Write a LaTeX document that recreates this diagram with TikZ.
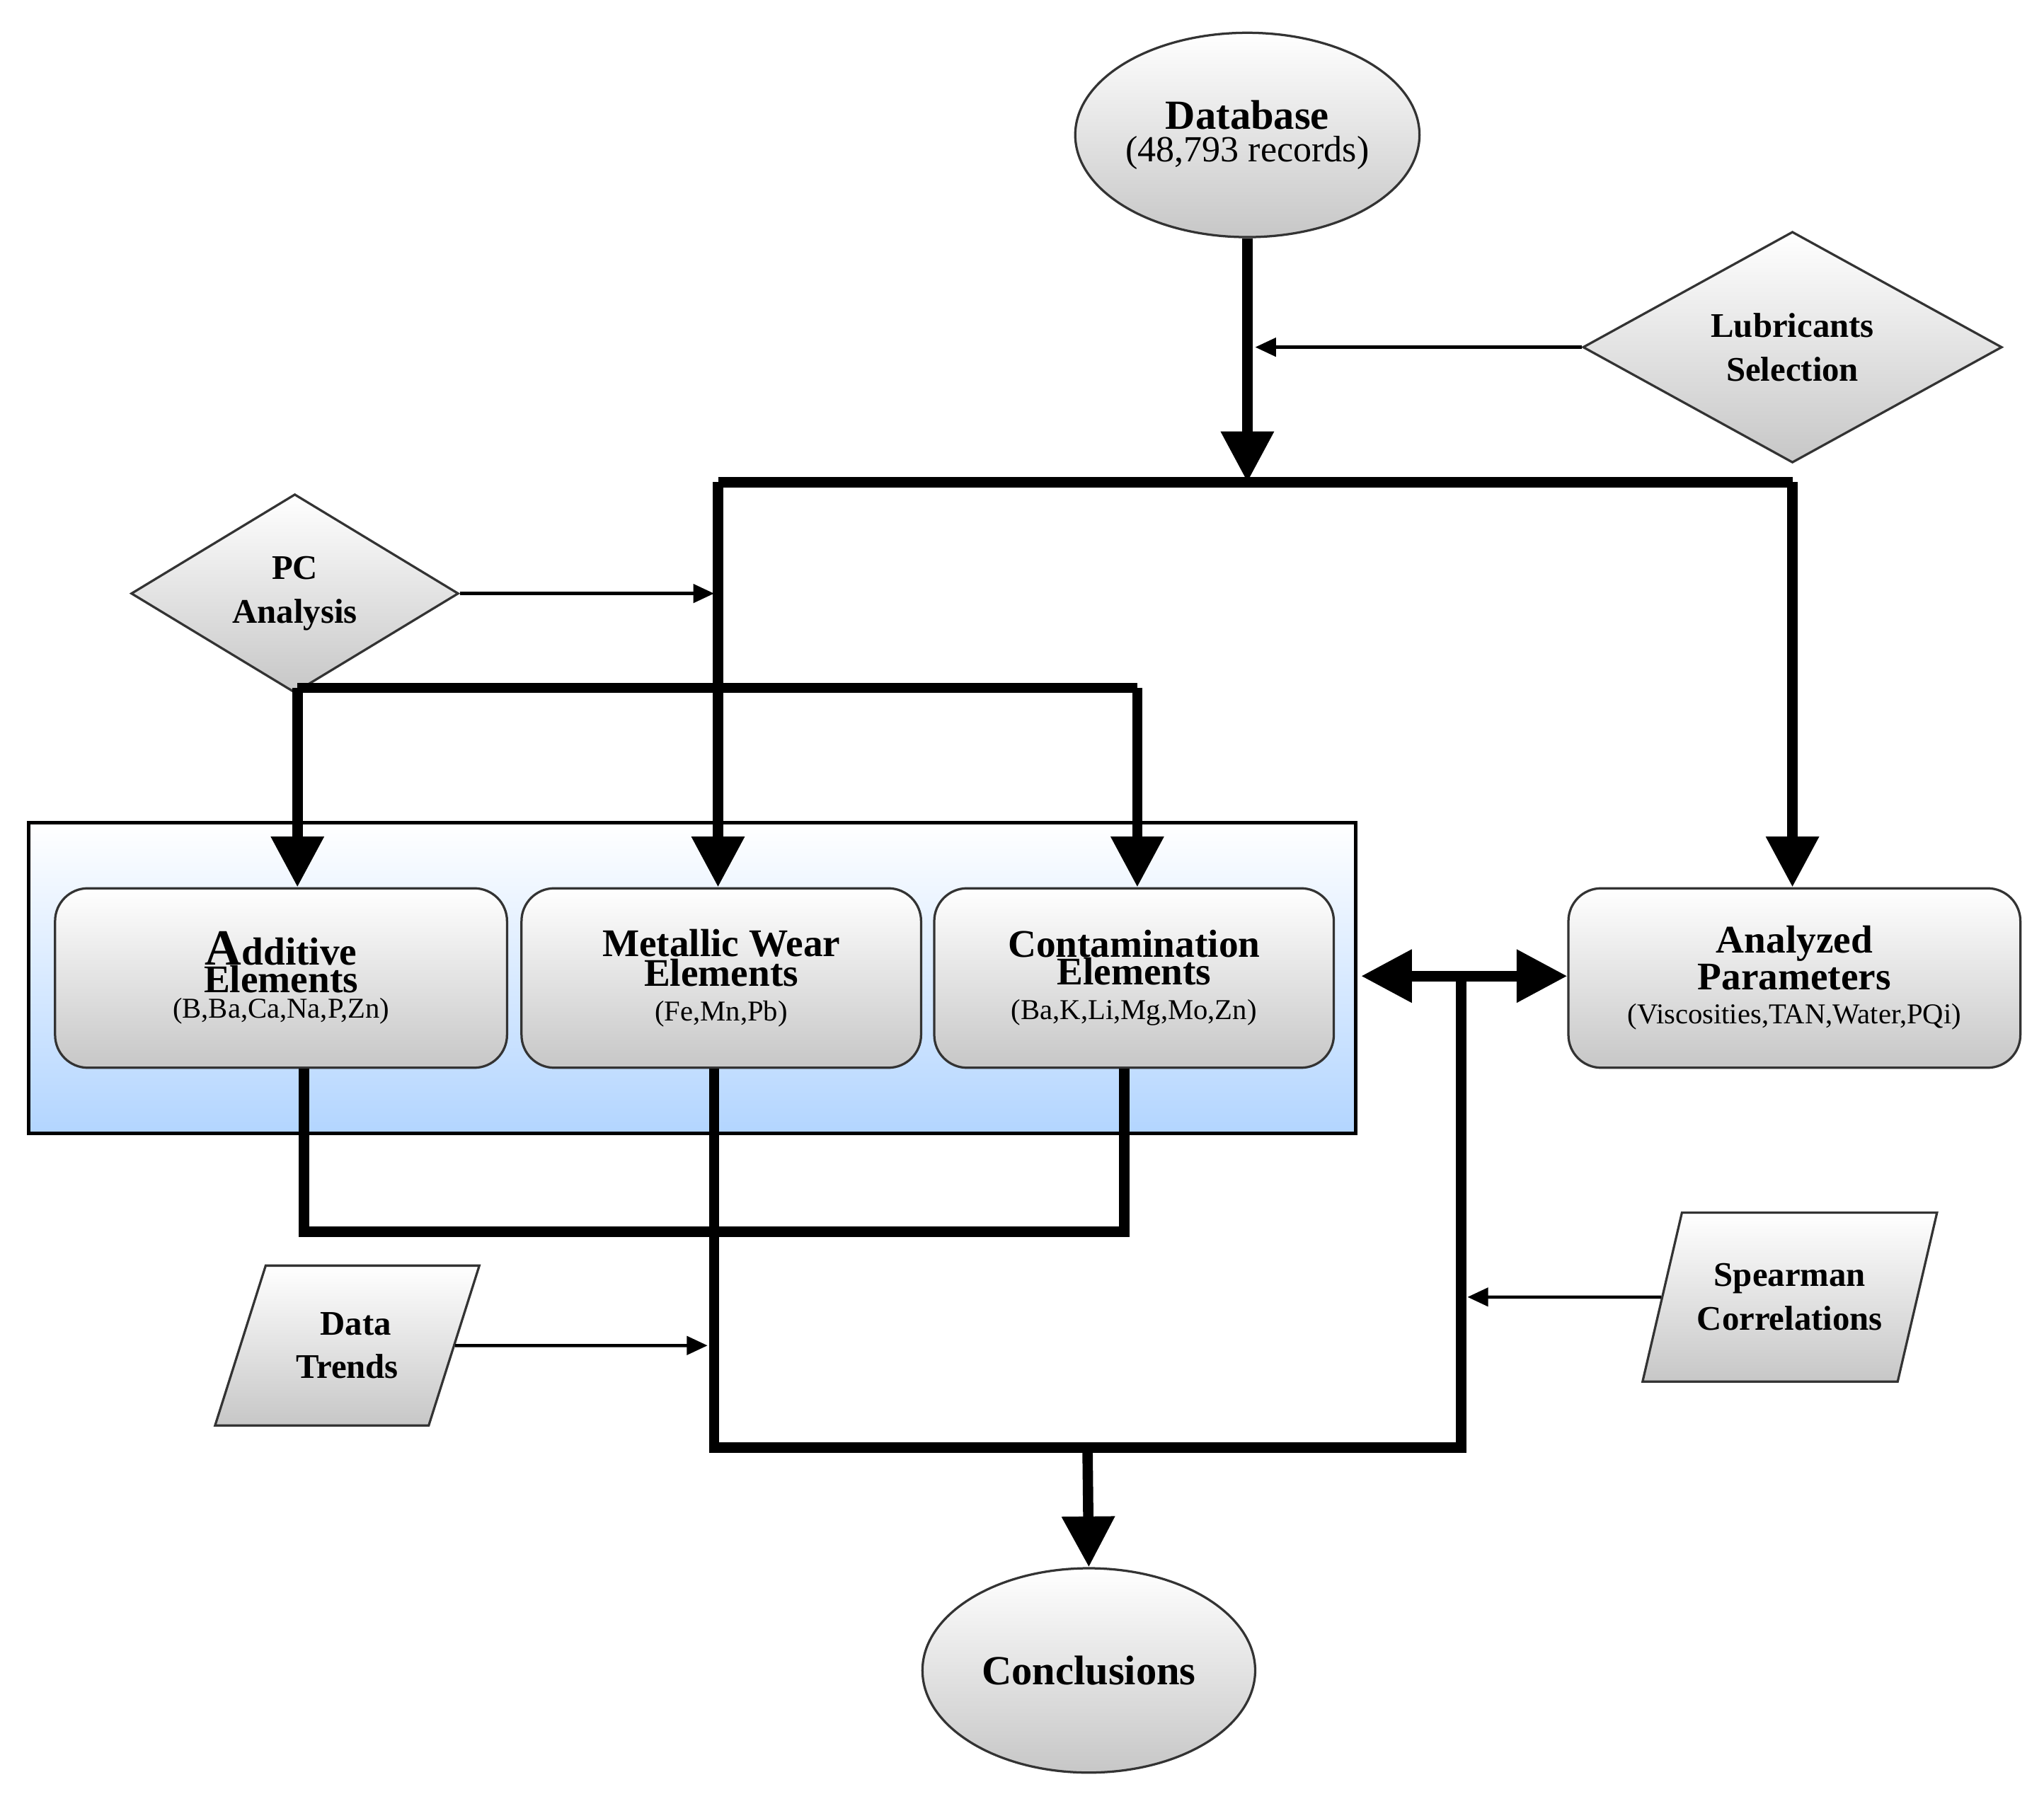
\documentclass[tikz,border=0pt]{standalone}
\usepackage{fontspec}
\setmainfont{Liberation Serif}
\usetikzlibrary{shapes.geometric,arrows.meta}
\newcommand{\mybt}{\bfseries\fontsize{17}{22}\selectfont}
\newcommand{\myst}{\mdseries\fontsize{12.5}{15}\selectfont}
\begin{document}
\begin{tikzpicture}[x=0.02cm,y=-0.02cm,
  gshade/.style={draw=black!80,line width=1pt,top color=white,bottom color=black!22},
  ell/.style={gshade,ellipse,minimum width=5.12cm,minimum height=3.12cm,inner sep=0pt,align=center},
  dia/.style={gshade,diamond,inner sep=0pt,align=center,font=\bfseries\fontsize{15}{19}\selectfont},
  par/.style={gshade,trapezium,trapezium left angle=66,trapezium right angle=114,trapezium stretches=true,align=center,font=\bfseries\fontsize{15}{19}\selectfont},
  box/.style={gshade,rounded corners=0.5cm,inner sep=0pt,align=center},
  thk/.style={line width=4.5pt},
  thin/.style={line width=1.4pt,-{Triangle[length=9pt,width=8pt]}},
  big/.style={line width=4.5pt,-{Triangle[length=22pt,width=22pt]}}]
\useasboundingbox (0,0) rectangle (1560,1369);
\node[draw=black,line width=1.5pt,top color=white,bottom color=cyan!45!blue!30,minimum width=20.26cm,minimum height=4.74cm,inner sep=0pt] (panel) at (528.5,746.5) {};
\node[ell] (db) at (952,103) {\bfseries\fontsize{18}{22}\selectfont Database\\[2pt]\mdseries\fontsize{16}{20}\selectfont (48,793 records)};
\node[ell,minimum width=5.08cm] (concl) at (831,1275) {\bfseries\fontsize{18}{22}\selectfont Conclusions};
\node[dia,minimum width=6.4cm,minimum height=3.2cm] (lub) at (1368,265) {Lubricants\\Selection};
\node[dia,minimum width=5cm,minimum height=2.52cm] (pc) at (225,453) {PC\\Analysis};
\node[par,minimum width=4.06cm,minimum height=2.44cm] (dt) at (265,1027) {\ \ Data\\Trends};
\node[par,minimum width=4.5cm,minimum height=2.58cm] (sp) at (1366,990) {Spearman\\Correlations};
\node[box,minimum width=6.9cm,minimum height=2.74cm] (add) at (214.5,746.5) {\mybt \fontsize{22}{22}\selectfont A\mybt dditive\\\mybt Elements\\[-1pt]\myst (B,Ba,Ca,Na,P,Zn)};
\node[box,minimum width=6.1cm,minimum height=2.74cm] (met) at (550.5,746.5) {\mybt Metallic Wear\\\mybt Elements\\[3pt]\myst (Fe,Mn,Pb)};
\node[box,minimum width=6.1cm,minimum height=2.74cm] (con) at (865.5,746.5) {\mybt Contamination\\\mybt Elements\\[3pt]\myst (Ba,K,Li,Mg,Mo,Zn)};
\node[box,minimum width=6.9cm,minimum height=2.74cm] (ana) at (1369.5,746.5) {\mybt Analyzed\\\mybt Parameters\\[3pt]\myst (Viscosities,TAN,Water,PQi)};
\coordinate (j1) at (952,368);
\coordinate (lubin) at (958,265);
\coordinate (b1L) at (548,368); \coordinate (b1R) at (1368,368);
\coordinate (pcin) at (545,453);
\coordinate (b2L) at (227,525); \coordinate (b2R) at (868,525);
\coordinate (c1) at (232,940); \coordinate (c2) at (858,940);
\coordinate (d1) at (545,1105); \coordinate (d2) at (1115,1105);
\coordinate (d3) at (1115,745); \coordinate (j2) at (830,1105);
\coordinate (dtin) at (540,1027); \coordinate (spin) at (1120,990);
\draw[big] (db.south) -- (j1);
\draw[thin] (lub.west) -- (lubin);
\draw[thk] (b1L) -- (b1R);
\draw[big] (b1L) -- (b1L |- met.north);
\draw[big] (b1R) -- (b1R |- ana.north);
\draw[thin] (pc.east) -- (pcin);
\draw[thk] (b2L) -- (b2R);
\draw[big] (b2L) -- (b2L |- add.north);
\draw[big] (b2R) -- (b2R |- con.north);
\draw[thk,line join=miter] (c1 |- add.south) -- (c1) -- (c2) -- (c2 |- con.south);
\draw[thk,line join=miter] (d1 |- met.south) -- (d1) -- (d2) -- (d3);
\draw[line width=4.5pt,{Triangle[length=22pt,width=22pt]}-{Triangle[length=22pt,width=22pt]}] ([xshift=0.4cm]con.east |- d3) -- (ana.west |- d3);
\draw[big] (j2) -- (concl.north);
\draw[thin] (dt.east) -- (dtin);
\draw[thin] (sp.west) -- (spin);
\end{tikzpicture}
\end{document}
